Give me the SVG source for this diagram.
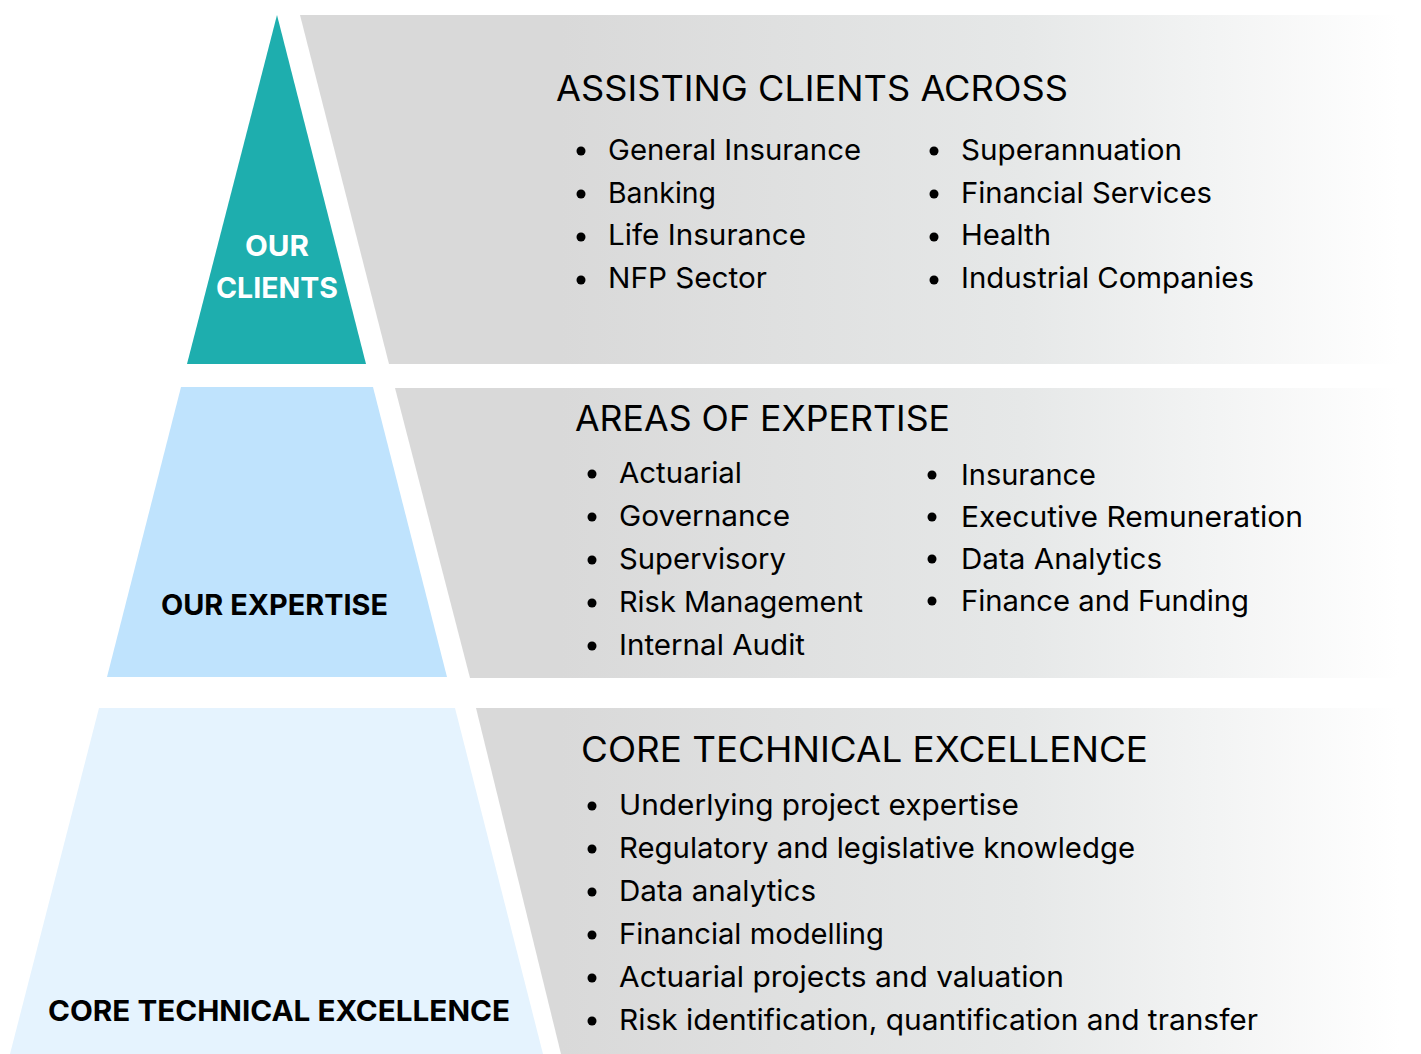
<svg xmlns="http://www.w3.org/2000/svg" width="1421" height="1054" viewBox="0 0 1421 1054">
<defs>
<linearGradient id="band" gradientUnits="userSpaceOnUse" x1="560" y1="0" x2="1400" y2="0">
<stop offset="0" stop-color="#d9d9d9"/>
<stop offset="0.55" stop-color="#e6e8e8"/>
<stop offset="1" stop-color="#ffffff"/>
</linearGradient>
<style>
.h{font-family:Inter,"Noto Sans","Liberation Sans",sans-serif;font-size:35px;fill:#000}
.t{font-family:Inter,"Noto Sans","Liberation Sans",sans-serif;font-size:29px;fill:#000}
.lb{font-family:Inter,"Noto Sans","Liberation Sans",sans-serif;font-size:29px;font-weight:700}
.b{fill:#000}
</style>
</defs>
<rect width="1421" height="1054" fill="#ffffff"/>
<g id="bands">
<polygon points="300,15 1421,15 1421,364 389,364" fill="url(#band)"/>
<polygon points="395,388 1421,388 1421,678 470,678" fill="url(#band)"/>
<polygon points="476,708 1421,708 1421,1054 561,1054" fill="url(#band)"/>
</g>
<g id="node-clients">
<polygon points="277,15 366,364 187,364" fill="#1eaeae"/>
<text class="lb" x="277" y="256" text-anchor="middle" fill="#ffffff" textLength="64" lengthAdjust="spacingAndGlyphs">OUR</text>
<text class="lb" x="277" y="298" text-anchor="middle" fill="#ffffff" textLength="122" lengthAdjust="spacingAndGlyphs">CLIENTS</text>
</g>
<g id="node-expertise">
<polygon points="181,387 373,387 447,677 107,677" fill="#bfe3fd"/>
<text class="lb" x="161" y="615" fill="#000" textLength="227" lengthAdjust="spacingAndGlyphs">OUR EXPERTISE</text>
</g>
<g id="node-core">
<polygon points="99,708 455,708 543,1054 10,1054" fill="#e5f3fe"/>
<text class="lb" x="48" y="1021" fill="#000" textLength="462" lengthAdjust="spacingAndGlyphs">CORE TECHNICAL EXCELLENCE</text>
</g>
<g id="panel-clients">
<text class="h" x="556" y="101" textLength="512" lengthAdjust="spacingAndGlyphs">ASSISTING CLIENTS ACROSS</text>
<circle class="b" cx="581" cy="151" r="4.5"/>
<circle class="b" cx="581" cy="194" r="4.5"/>
<circle class="b" cx="581" cy="237" r="4.5"/>
<circle class="b" cx="581" cy="280" r="4.5"/>
<text class="t" x="608" y="160" textLength="253" lengthAdjust="spacingAndGlyphs">General Insurance</text>
<text class="t" x="608" y="203" textLength="108" lengthAdjust="spacingAndGlyphs">Banking</text>
<text class="t" x="608" y="245" textLength="198" lengthAdjust="spacingAndGlyphs">Life Insurance</text>
<text class="t" x="608" y="288" textLength="159" lengthAdjust="spacingAndGlyphs">NFP Sector</text>
<circle class="b" cx="934" cy="151" r="4.5"/>
<circle class="b" cx="934" cy="194" r="4.5"/>
<circle class="b" cx="934" cy="237" r="4.5"/>
<circle class="b" cx="934" cy="280" r="4.5"/>
<text class="t" x="961" y="160" textLength="221" lengthAdjust="spacingAndGlyphs">Superannuation</text>
<text class="t" x="961" y="203" textLength="251" lengthAdjust="spacingAndGlyphs">Financial Services</text>
<text class="t" x="961" y="245" textLength="90" lengthAdjust="spacingAndGlyphs">Health</text>
<text class="t" x="961" y="288" textLength="293" lengthAdjust="spacingAndGlyphs">Industrial Companies</text>
</g>
<g id="panel-expertise">
<text class="h" x="575" y="431" textLength="375" lengthAdjust="spacingAndGlyphs">AREAS OF EXPERTISE</text>
<circle class="b" cx="592" cy="474" r="4.5"/>
<circle class="b" cx="592" cy="517" r="4.5"/>
<circle class="b" cx="592" cy="560" r="4.5"/>
<circle class="b" cx="592" cy="603" r="4.5"/>
<circle class="b" cx="592" cy="646" r="4.5"/>
<text class="t" x="619" y="483" textLength="123" lengthAdjust="spacingAndGlyphs">Actuarial</text>
<text class="t" x="619" y="526" textLength="171" lengthAdjust="spacingAndGlyphs">Governance</text>
<text class="t" x="619" y="569" textLength="167" lengthAdjust="spacingAndGlyphs">Supervisory</text>
<text class="t" x="619" y="612" textLength="244" lengthAdjust="spacingAndGlyphs">Risk Management</text>
<text class="t" x="619" y="655" textLength="186" lengthAdjust="spacingAndGlyphs">Internal Audit</text>
<circle class="b" cx="932" cy="475" r="4.5"/>
<circle class="b" cx="932" cy="517" r="4.5"/>
<circle class="b" cx="932" cy="559" r="4.5"/>
<circle class="b" cx="932" cy="601" r="4.5"/>
<text class="t" x="961" y="485" textLength="135" lengthAdjust="spacingAndGlyphs">Insurance</text>
<text class="t" x="961" y="527" textLength="342" lengthAdjust="spacingAndGlyphs">Executive Remuneration</text>
<text class="t" x="961" y="569" textLength="201" lengthAdjust="spacingAndGlyphs">Data Analytics</text>
<text class="t" x="961" y="611" textLength="288" lengthAdjust="spacingAndGlyphs">Finance and Funding</text>
</g>
<g id="panel-core">
<text class="h" x="581" y="762" textLength="567" lengthAdjust="spacingAndGlyphs">CORE TECHNICAL EXCELLENCE</text>
<circle class="b" cx="592" cy="806" r="4.5"/>
<circle class="b" cx="592" cy="849" r="4.5"/>
<circle class="b" cx="592" cy="892" r="4.5"/>
<circle class="b" cx="592" cy="935" r="4.5"/>
<circle class="b" cx="592" cy="978" r="4.5"/>
<circle class="b" cx="592" cy="1021" r="4.5"/>
<text class="t" x="619" y="815" textLength="400" lengthAdjust="spacingAndGlyphs">Underlying project expertise</text>
<text class="t" x="619" y="858" textLength="516" lengthAdjust="spacingAndGlyphs">Regulatory and legislative knowledge</text>
<text class="t" x="619" y="901" textLength="197" lengthAdjust="spacingAndGlyphs">Data analytics</text>
<text class="t" x="619" y="944" textLength="265" lengthAdjust="spacingAndGlyphs">Financial modelling</text>
<text class="t" x="619" y="987" textLength="445" lengthAdjust="spacingAndGlyphs">Actuarial projects and valuation</text>
<text class="t" x="619" y="1030" textLength="639" lengthAdjust="spacingAndGlyphs">Risk identification, quantification and transfer</text>
</g>
</svg>
